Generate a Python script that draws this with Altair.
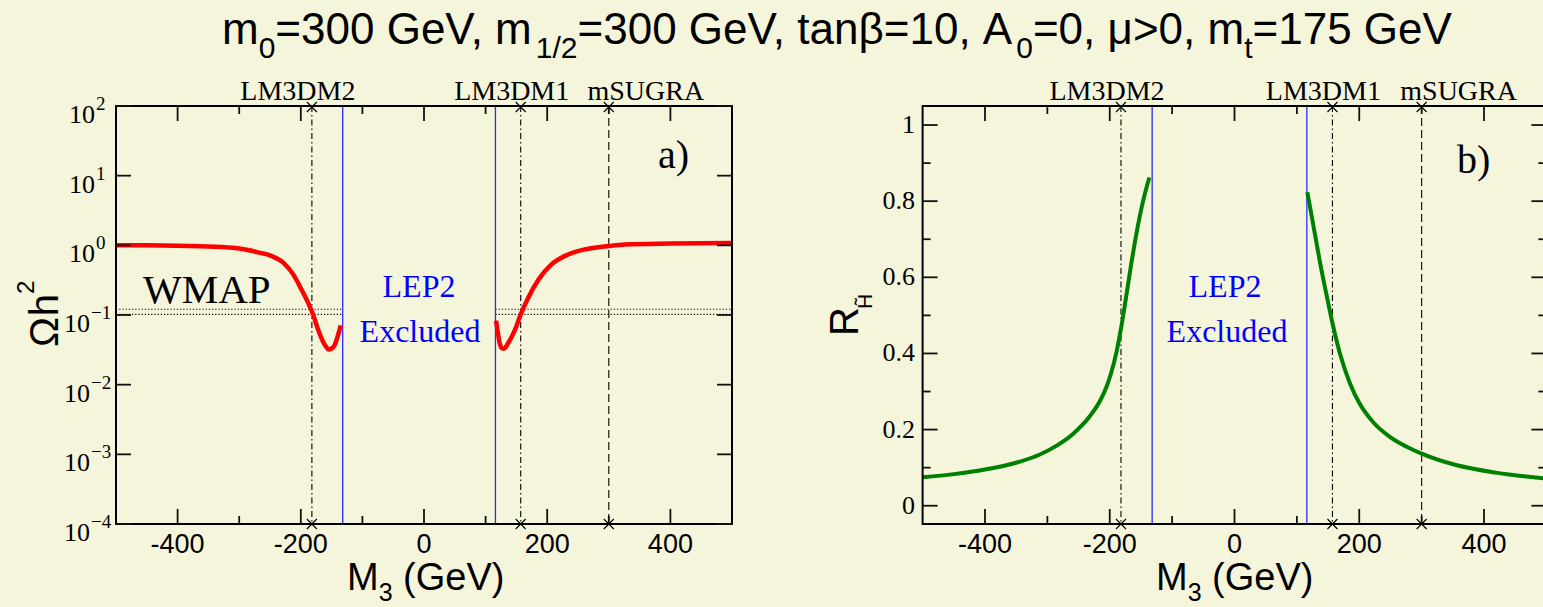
import altair as alt
import pandas as pd

# ---------------- values ----------------
# panel a) relic density, branch below the LEP2 gap and branch above it
m3_omega_low = [-500, -450, -400, -364, -310, -290, -266, -250, -228, -212, -199,
                -188, -181, -172, -163, -158, -155, -150, -145, -140, -135]
omega_low = [1.00, 1.00, 0.99, 0.97, 0.92, 0.87, 0.78, 0.72, 0.56, 0.38, 0.233,
             0.149, 0.107, 0.062, 0.040, 0.034, 0.032, 0.033, 0.037, 0.050, 0.071]
m3_omega_high = [117, 120, 123, 127, 130, 137, 148, 157, 169, 186, 207, 234, 261,
                 300, 326, 400, 500]
omega_high = [0.083, 0.055, 0.039, 0.033, 0.033, 0.040, 0.062, 0.102, 0.176, 0.324,
              0.533, 0.74, 0.875, 0.98, 1.03, 1.06, 1.08]

# panel b) higgsino fraction
m3_rh_low = [-500, -450, -400, -350, -313, -285, -258, -232, -215, -205, -199,
             -189, -182, -175, -167, -157, -146, -136.5]
rh_low = [0.075, 0.083, 0.095, 0.113, 0.134, 0.158, 0.190, 0.235, 0.277, 0.313,
          0.342, 0.405, 0.465, 0.535, 0.620, 0.717, 0.804, 0.862]
m3_rh_high = [116.7, 126, 137, 148, 157, 169, 185, 201, 222, 249, 276, 300, 355, 419, 500]
rh_high = [0.824, 0.740, 0.640, 0.550, 0.480, 0.400, 0.322, 0.267, 0.220, 0.181,
           0.155, 0.137, 0.107, 0.087, 0.071]

lep2_limits = [-132, 116]
bench_names = ["LM3DM2", "LM3DM1", "mSUGRA"]
bench_m3 = [-182, 157, 300]
wmap_band = [0.102, 0.121]

x_major = [-400, -200, 0, 200, 400]
x_major_labels = ["-400", "-200", "0", "200", "400"]
x_minor = [-300, -100, 100, 300]
omega_exponents = [-4, -3, -2, -1, 0, 1, 2]
omega_exp_labels = ["\u22124", "\u22123", "\u22122", "\u22121", "0", "1", "2"]
rh_major = [0, 0.2, 0.4, 0.6, 0.8, 1.0]
rh_major_labels = ["0", "0.2", "0.4", "0.6", "0.8", "1"]
rh_minor = [0.1, 0.3, 0.5, 0.7, 0.9]

title_parts = [("m", False), ("0", True), ("=300 GeV, m", False), ("1/2", True),
               ("=300 GeV, tan\u03b2=10, A", False), ("0", True),
               ("=0, \u03bc>0, m", False), ("t", True), ("=175 GeV", False)]

# ---------------- styling / geometry ----------------
BG = "#F5F5DC"
SERIF = "Liberation Serif"
SANS = "Liberation Sans"
TOP, BOT = 106, 524
LX0, LX1 = 116, 732
RX0, RX1 = 922.6, 1546.4
MAJ, MIN = 15, 8
DASHDOT = [6, 3, 1.5, 3]
bench_dash = [DASHDOT, DASHDOT, [8, 4]]
bench_label_dx = [-14, -9, 37]

ARIAL = {"m": 833, "=": 584, " ": 278, "G": 778, "e": 556, "V": 667, ",": 278,
         "/": 278, "t": 278, "a": 556, "n": 556, "\u03b2": 575, "A": 667,
         "\u03bc": 576, ">": 584, "M": 833, "(": 333, ")": 333, "h": 556,
         "\u03a9": 768, "R": 722, "H": 722}
for d in "0123456789":
    ARIAL[d] = 556


def tw(s, size):
    return sum(ARIAL.get(c, 556) for c in s) * size / 1000.0


def one():
    return pd.DataFrame({"k": [0]})


def X(field, sc):
    return alt.X(f"{field}:Q", scale=sc, axis=None)


def Y(field, sc):
    return alt.Y(f"{field}:Q", scale=sc, axis=None)


def text_layer(txt, x, y, size, font, color="black", align="left", angle=0):
    kw = dict(text=txt, font=font, fontSize=size, color=color, align=align,
              baseline="alphabetic")
    if angle:
        kw["angle"] = angle
    return alt.Chart(one()).mark_text(**kw).encode(x=alt.value(x), y=alt.value(y))


xL = alt.Scale(domain=[-500, 500], range=[LX0, LX1], nice=False, zero=False)
xR = alt.Scale(domain=[-500, 500], range=[RX0, RX1], nice=False, zero=False)
yL = alt.Scale(type="log", domain=[1e-4, 1e2], range=[BOT, TOP], nice=False)
yR = alt.Scale(domain=[-0.048, 1.05], range=[BOT, TOP], nice=False, zero=False)


def ref_lines(xs):
    out = []
    out.append(alt.Chart(pd.DataFrame({"m3": lep2_limits})).mark_rule(
        color="#2a2aff", strokeWidth=1.3).encode(
        x=X("m3", xs), y=alt.value(TOP), y2=alt.value(BOT)))
    for name, m, dash in zip(bench_names, bench_m3, bench_dash):
        out.append(alt.Chart(pd.DataFrame({"m3": [m]})).mark_rule(
            color="black", strokeWidth=1.1, strokeDash=dash).encode(
            x=X("m3", xs), y=alt.value(TOP), y2=alt.value(BOT)))
    return out


def frame_layers(xs, x0, x1, ys, y_major_vals, y_minor_vals):
    out = []
    out.append(alt.Chart(one()).mark_rect(fillOpacity=0, stroke="black", strokeWidth=2).encode(
        x=alt.value(x0), x2=alt.value(x1), y=alt.value(TOP), y2=alt.value(BOT)))
    for vals, ln in ((x_major, MAJ), (x_minor, MIN)):
        d = pd.DataFrame({"m3": vals})
        out.append(alt.Chart(d).mark_rule(color="#111", strokeWidth=1.8).encode(
            x=X("m3", xs), y=alt.value(BOT), y2=alt.value(BOT - ln)))
        out.append(alt.Chart(d).mark_rule(color="#111", strokeWidth=1.8).encode(
            x=X("m3", xs), y=alt.value(TOP), y2=alt.value(TOP + ln)))
    for vals, ln in ((y_major_vals, MAJ), (y_minor_vals, MIN)):
        if not vals:
            continue
        d = pd.DataFrame({"v": vals})
        out.append(alt.Chart(d).mark_rule(color="#111", strokeWidth=1.8).encode(
            y=Y("v", ys), x=alt.value(x0), x2=alt.value(x0 + ln)))
        out.append(alt.Chart(d).mark_rule(color="#111", strokeWidth=1.8).encode(
            y=Y("v", ys), x=alt.value(x1 - ln), x2=alt.value(x1)))
    out.append(alt.Chart(pd.DataFrame({"m3": x_major, "lab": x_major_labels})).mark_text(
        font=SANS, fontSize=27, color="black", align="center", baseline="alphabetic").encode(
        x=X("m3", xs), y=alt.value(553), text="lab:N"))
    cross = "M-1,-1L1,1M-1,1L1,-1"
    bd = pd.DataFrame({"m3": bench_m3, "name": bench_names})
    for yy in (TOP + 1, BOT):
        out.append(alt.Chart(bd).mark_point(shape=cross, size=100, filled=False,
                                            stroke="black", strokeWidth=1.1, opacity=1).encode(
            x=X("m3", xs), y=alt.value(yy)))
    for name, m, dx in zip(bench_names, bench_m3, bench_label_dx):
        out.append(alt.Chart(pd.DataFrame({"m3": [m], "name": [name]})).mark_text(
            font=SERIF, fontSize=28, color="black", align="center", baseline="alphabetic",
            dx=dx).encode(x=X("m3", xs), y=alt.value(100), text="name:N"))
    return out


layers = []

# ----- panel a -----
layers += ref_lines(xL)
wm_rows = []
for lo, hi in ((-500, lep2_limits[0]), (lep2_limits[1], 500)):
    for v in wmap_band:
        wm_rows.append({"a": lo, "b": hi, "v": v})
layers.append(alt.Chart(pd.DataFrame(wm_rows)).mark_rule(
    color="black", strokeWidth=1.1, strokeDash=[1.2, 2]).encode(
    x=X("a", xL), x2="b:Q", y=Y("v", yL)))
om = pd.DataFrame({"m3": m3_omega_low + m3_omega_high,
                   "val": omega_low + omega_high,
                   "branch": ["low"] * len(m3_omega_low) + ["high"] * len(m3_omega_high)})
layers.append(alt.Chart(om).mark_line(color="#ff0000", strokeWidth=4.5, interpolate="monotone").encode(
    x=X("m3", xL), y=Y("val", yL), detail="branch:N"))
layers += frame_layers(xL, LX0, LX1, yL, [10.0 ** e for e in omega_exponents], [])
exp_df = pd.DataFrame({"v": [10.0 ** e for e in omega_exponents], "e": omega_exp_labels,
                       "neg": [e < 0 for e in omega_exponents]})
for neg, base_x in ((False, LX0 - 21), (True, LX0 - 26)):
    sub = exp_df[exp_df["neg"] == neg]
    layers.append(alt.Chart(sub).mark_text(font=SERIF, fontSize=26, color="black", align="right",
                                           baseline="alphabetic", dy=17, text="10").encode(
        y=Y("v", yL), x=alt.value(base_x)))
    layers.append(alt.Chart(sub).mark_text(font=SERIF, fontSize=19, color="black", align="left",
                                           baseline="alphabetic", dy=4).encode(
        y=Y("v", yL), x=alt.value(base_x + 1), text="e:N"))

layers.append(text_layer("WMAP", 143, 303, 41, SERIF))
layers.append(text_layer("LEP2", 419, 297, 32, SERIF, color="#0000ff", align="center"))
layers.append(text_layer("Excluded", 420, 342, 32, SERIF, color="#0000ff", align="center"))
layers.append(text_layer("a)", 658, 168, 40, SERIF))

# ----- panel b -----
layers += ref_lines(xR)
rh = pd.DataFrame({"m3": m3_rh_low + m3_rh_high,
                   "val": rh_low + rh_high,
                   "branch": ["low"] * len(m3_rh_low) + ["high"] * len(m3_rh_high)})
layers.append(alt.Chart(rh).mark_line(color="#008000", strokeWidth=4, interpolate="monotone").encode(
    x=X("m3", xR), y=Y("val", yR), detail="branch:N"))
layers += frame_layers(xR, RX0, RX1, yR, rh_major, rh_minor)
layers.append(alt.Chart(pd.DataFrame({"v": rh_major, "lab": rh_major_labels})).mark_text(
    font=SERIF, fontSize=26, color="black", align="right", baseline="middle").encode(
    y=Y("v", yR), x=alt.value(RX0 - 7.5), text="lab:N"))
layers.append(text_layer("LEP2", 1225, 297, 32, SERIF, color="#0000ff", align="center"))
layers.append(text_layer("Excluded", 1227, 342, 32, SERIF, color="#0000ff", align="center"))
layers.append(text_layer("b)", 1457, 173, 40, SERIF))

# ----- axis titles -----
for x0 in (347, 1156):
    layers.append(text_layer("M", x0, 590, 38, SANS))
    xs = x0 + tw("M", 38)
    layers.append(text_layer("3", xs, 601, 25, SANS))
    xs += tw("3", 25) + tw(" ", 38)
    layers.append(text_layer("(GeV)", xs, 590, 38, SANS))

# Omega h^2 (rotated)
layers.append(text_layer("\u03a9", 58, 347, 40, SANS, angle=270))
layers.append(text_layer("h", 58, 347 - tw("\u03a9", 40), 40, SANS, angle=270))
layers.append(text_layer("2", 34, 347 - tw("\u03a9h", 40), 24, SANS, angle=270))
# R_H~ (rotated)
layers.append(text_layer("R", 858, 336, 40, SANS, angle=270))
layers.append(text_layer("H\u0303", 872, 336 - tw("R", 40) + 2, 21, SANS, angle=270))

# ----- title -----
tx = 222
for txt, is_sub in title_parts:
    size = 30 if is_sub else 44
    layers.append(text_layer(txt, tx, 44 + (14 if is_sub else 0), size, SANS))
    tx += tw(txt, size)

chart = alt.layer(*layers).resolve_scale(x="independent", y="independent").properties(
    width=1543, height=607, padding=0,
    autosize=alt.AutoSizeParams(type="none"),
    background=BG,
).configure_view(stroke=None)

chart.save("out.html", embed_options={"renderer": "svg", "actions": False})
